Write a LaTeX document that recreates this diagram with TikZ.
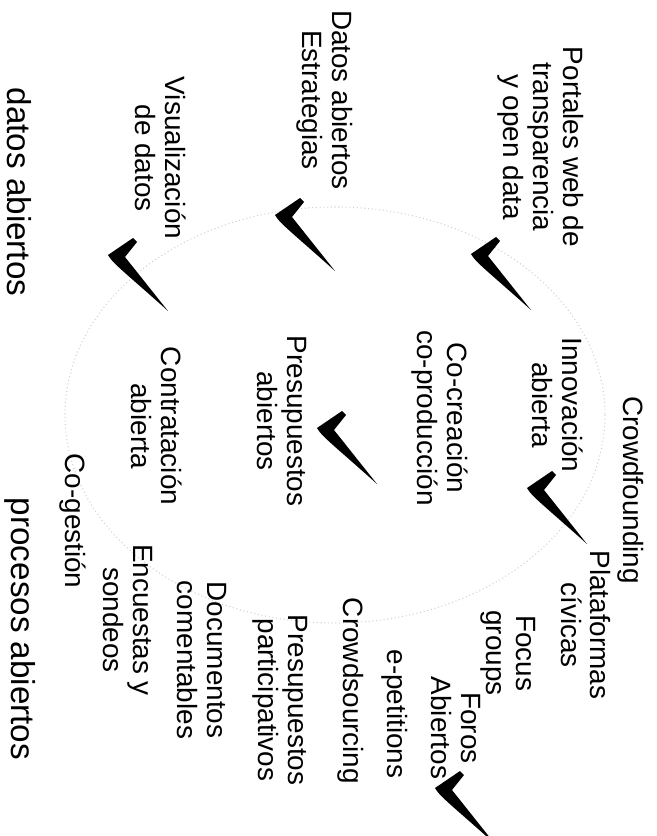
\documentclass[tikz,border=0pt]{standalone}
\usepackage{fontspec}
\setmainfont{Liberation Sans}
\newcommand{\tickat}[2]{\fill[shift={(#1,#2)}] (0,0) -- (25,-17) -- (29,-13) -- (17,2) -- (60,56) .. controls (20,20) and (4,8) .. (0,0) -- cycle;}
\begin{document}
\begin{tikzpicture}[x=0.2646mm, y=-0.2646mm,
  every node/.style={rotate=-90, align=center, inner sep=0pt, font=\fontsize{21}{22.5}\selectfont},
  headtext/.style={font=\fontsize{25}{30}\selectfont}]
\useasboundingbox (0,0) rectangle (656,836);
\draw[gray!35, dotted, line width=0.8pt] (335,415) ellipse [x radius=270, y radius=208];
% headings
\node[headtext] (DA) at (19,192) {datos abiertos};
\node[headtext] (PA) at (20,629) {procesos abiertos};
% items
\node (N1) at (541,147) {Portales web de\\transparencia\\y open data};
\node (N2) at (325,100) {Datos abiertos\\Estrategias};
\node (N3) at (161,158) {Visualización\\de datos};
\node (N4) at (631,490) {Crowdfounding};
\node (N5) at (558,405) {Innovación\\abierta};
\node (N6) at (440,418) {Co-creación\\co-producción};
\node (N7) at (282,421) {Presupuestos\\abiertos};
\node (N8) at (157,426) {Contratación\\abierta};
\node (N9) at (73,521) {Co-gestión};
\node (N10) at (586,625) {Plataformas\\cívicas};
\node (N11) at (508,653) {Focus\\groups};
\node (N12) at (456,728) {Foros\\Abiertos};
\node (N13) at (395,714) {e-petitions};
\node (N14) at (351,691) {Crowdsourcing};
\node (N15) at (280,700) {Presupuestos\\participativos};
\node (N16) at (202,660) {Documentos\\comentables};
\node (N17) at (128,620) {Encuestas y\\sondeos};
% ticks
\tickat{471}{254}
\tickat{275}{215}
\tickat{108}{255}
\tickat{317}{428}
\tickat{527}{488}
\tickat{435}{788}
\end{tikzpicture}
\end{document}
